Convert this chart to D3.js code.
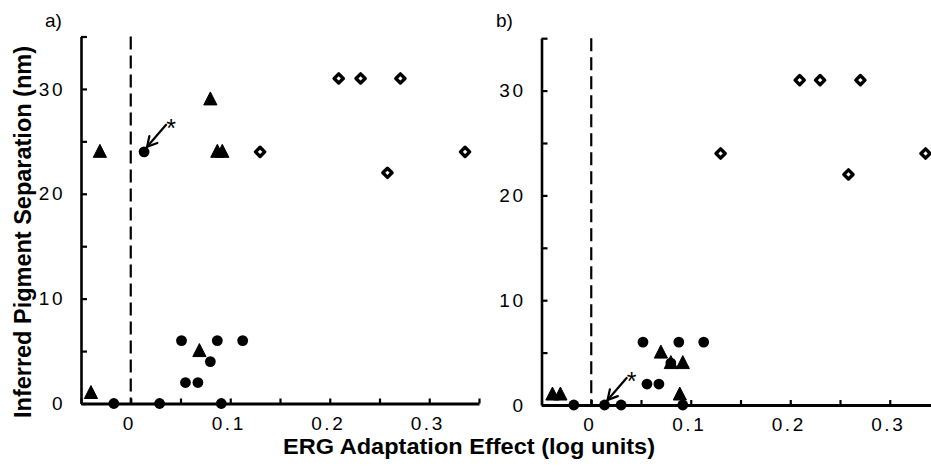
<!DOCTYPE html>
<html>
<head>
<meta charset="utf-8">
<script src="https://cdn.jsdelivr.net/npm/d3@7"></script>
<style>
  html, body { margin: 0; padding: 0; background: #fff; }
  svg { display: block; }
  .tick text { font-family: "Liberation Sans", Arial, Helvetica, sans-serif; font-size: 19px; letter-spacing: 2.5px; fill: #000; }
  .title { font-family: "Liberation Sans", Arial, Helvetica, sans-serif; font-weight: bold; font-size: 23px; fill: #000; }
  .plabel { font-family: "Liberation Sans", Arial, Helvetica, sans-serif; font-size: 19px; fill: #000; }
</style>
</head>
<body>
<script>
// ---- data ----
const xTickValues = [-0.05, 0, 0.05, 0.1, 0.15, 0.2, 0.25, 0.3, 0.35];
const xTickLabels = ["0", "0.1", "0.2", "0.3"];      // labelled x ticks
const xLabelValues = [0, 0.1, 0.2, 0.3];
const yTickValues = [0, 5, 10, 15, 20, 25, 30, 35];
const yLabelValues = [0, 10, 20, 30];

// panel a
const aCircles   = [[-0.017,0],[0.029,0],[0.091,0],[0.0134,24],[0.051,6],[0.087,6],[0.1125,6],[0.080,4],[0.055,2],[0.0675,2]];
const aTriangles = [[-0.040,1],[-0.031,24],[0.080,29],[0.087,24],[0.092,24],[0.069,5]];
const aDiamonds  = [[0.130,24],[0.209,31],[0.231,31],[0.271,31],[0.258,22],[0.336,24]];
const aStarred   = [0.0134, 24];

// panel b
const bCircles   = [[-0.0175,0],[0.0134,0],[0.030,0],[0.092,0],[0.052,6],[0.088,6],[0.113,6],[0.056,2],[0.068,2],[0.080,4]];
const bTriangles = [[-0.039,1],[-0.031,1],[0.070,5],[0.080,4],[0.092,4],[0.089,1]];
const bDiamonds  = [[0.130,24],[0.2095,31],[0.230,31],[0.2705,31],[0.2585,22],[0.336,24]];
const bStarred   = [0.0134, 0];

const xTitle = "ERG Adaptation Effect (log units)";
const yTitle = "Inferred Pigment Separation (nm)";

// ---- drawing ----
const W = 931, H = 475;
const svg = d3.select("body").append("svg").attr("width", W).attr("height", H);

function panel(cfg) {
  const x = d3.scaleLinear().domain([-0.05, 0.35]).range(cfg.xr);
  const y = d3.scaleLinear().domain([0, 35]).range(cfg.yr);
  const g = svg.append("g");

  // x axis
  const xa = g.append("g").attr("transform", `translate(0,${cfg.yr[0]})`)
    .call(d3.axisBottom(x).tickValues(xTickValues).tickSizeInner(-5).tickSizeOuter(0).tickPadding(13)
      .tickFormat(d => { const i = xLabelValues.findIndex(v => Math.abs(v - d) < 1e-9); return i >= 0 ? xTickLabels[i] : ""; }));
  xa.select(".domain").attr("stroke", "#000").attr("stroke-width", 3);
  xa.selectAll(".tick line").attr("stroke", "#000").attr("stroke-width", 2.2);
  xa.selectAll(".tick text").attr("dx", "-2px");

  // y axis
  const ya = g.append("g").attr("transform", `translate(${cfg.xr[0]},0)`)
    .call(d3.axisLeft(y).tickValues(yTickValues).tickSizeInner(-6).tickSizeOuter(0).tickPadding(16)
      .tickFormat(d => yLabelValues.includes(d) ? String(d) : ""));
  ya.select(".domain").attr("stroke", "#000").attr("stroke-width", 2.6);
  ya.selectAll(".tick line").attr("stroke", "#000").attr("stroke-width", 2.2);

  // dashed zero line
  g.append("line").attr("x1", x(0)).attr("x2", x(0)).attr("y1", y(35)).attr("y2", y(0))
    .attr("stroke", "#000").attr("stroke-width", 2.2).attr("stroke-dasharray", "13,6");

  // markers
  g.selectAll(".circ").data(cfg.circles).enter().append("circle")
    .attr("cx", d => x(d[0])).attr("cy", d => y(d[1])).attr("r", 5.4).attr("fill", "#000");
  g.selectAll(".tri").data(cfg.triangles).enter().append("path")
    .attr("d", "M0,-7.5L6.6,5.5L-6.6,5.5Z").attr("fill", "#000").attr("stroke", "#000").attr("stroke-width", 1).attr("stroke-linejoin", "round")
    .attr("transform", d => `translate(${x(d[0])},${y(d[1])})`);
  g.selectAll(".dia").data(cfg.diamonds).enter().append("path")
    .attr("d", "M0,-4.6L4.6,0L0,4.6L-4.6,0Z").attr("fill", "#fff").attr("stroke", "#000").attr("stroke-width", 3.4)
    .attr("stroke-linejoin", "round")
    .attr("transform", d => `translate(${x(d[0])},${y(d[1])})`);

  // asterisk arrow annotation
  const sx = x(cfg.starred[0]), sy = y(cfg.starred[1]);
  const tip = [sx + 3, sy - 5], tail = [sx + 22, sy - 27];
  const ang = Math.atan2(tail[1] - tip[1], tail[0] - tip[0]);
  const wl = 11, wa = 0.5;
  const ann = g.append("g").attr("stroke", "#000").attr("stroke-width", 2.2).attr("fill", "none").attr("stroke-linecap", "round");
  ann.append("line").attr("x1", tip[0]).attr("y1", tip[1]).attr("x2", tail[0]).attr("y2", tail[1]);
  ann.append("path").attr("d",
    `M${tip[0] + wl*Math.cos(ang - wa)},${tip[1] + wl*Math.sin(ang - wa)}L${tip[0]},${tip[1]}L${tip[0] + wl*Math.cos(ang + wa)},${tip[1] + wl*Math.sin(ang + wa)}`);
  g.append("text").attr("class", "plabel").attr("x", sx + 27).attr("y", sy - 15)
    .attr("text-anchor", "middle").style("font-size", "25px").text("*");

  // panel label
  g.append("text").attr("class", "plabel").attr("x", cfg.labelX).attr("y", 27).text(cfg.label);
}

panel({ xr: [81, 479], yr: [403.5, 36.5], circles: aCircles, triangles: aTriangles, diamonds: aDiamonds, starred: aStarred, label: "a)", labelX: 45 });
panel({ xr: [541.5, 939.5], yr: [405, 38.2], circles: bCircles, triangles: bTriangles, diamonds: bDiamonds, starred: bStarred, label: "b)", labelX: 496 });

// axis titles
svg.append("text").attr("class", "title").attr("x", 469).attr("y", 454).attr("text-anchor", "middle")
  .style("font-size", "22px")
  .attr("textLength", 372).attr("lengthAdjust", "spacingAndGlyphs").text(xTitle);
svg.append("text").attr("class", "title").attr("transform", "translate(31,232) rotate(-90)").attr("text-anchor", "middle")
  .style("font-size", "24px")
  .attr("textLength", 372).attr("lengthAdjust", "spacingAndGlyphs").text(yTitle);
</script>
</body>
</html>
